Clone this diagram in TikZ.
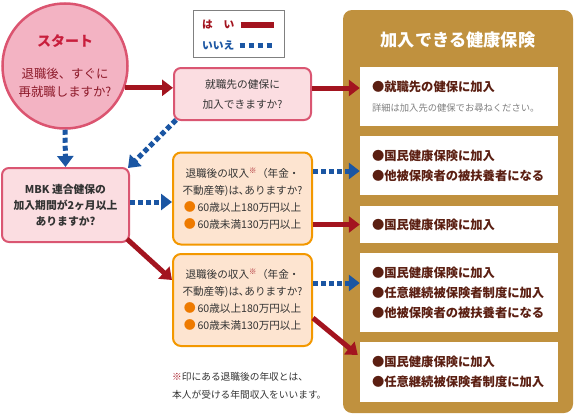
\documentclass[tikz,border=0pt]{standalone}
\usepackage{fontspec}
\setmainfont{Noto Sans CJK JP}
\usetikzlibrary{positioning, arrows.meta, calc}
\definecolor{yesred}{HTML}{A3141F}
\definecolor{noblue}{HTML}{1B56A3}
\definecolor{startfill}{HTML}{F3B3C3}
\definecolor{startline}{HTML}{DB5470}
\definecolor{pinkfill}{HTML}{FBDDE1}
\definecolor{pinkline}{HTML}{DA5672}
\definecolor{orangefill}{HTML}{FDE4D0}
\definecolor{orangeline}{HTML}{F39800}
\definecolor{orangebul}{HTML}{EE7A00}
\definecolor{goldfill}{HTML}{C0913E}
\definecolor{restext}{HTML}{5B1F12}
\definecolor{boxtext}{HTML}{333333}
\definecolor{starttitle}{HTML}{C81E3C}
\definecolor{starttext}{HTML}{8E1B2B}

\begin{document}
\begin{tikzpicture}[
    x=1pt, y=-1pt,
    every node/.style={inner sep=0pt},
    startcircle/.style={
        draw=startline,
        fill=startfill,
        circle,
        line width=2.5pt,
        minimum size=125pt,
        align=center,
        text=starttext,
        font=\fontsize{12.4}{18}\selectfont,
    },
    qbox/.style={
        draw=pinkline,
        fill=pinkfill,
        line width=2pt,
        rounded corners=7pt,
        align=center,
        text=boxtext,
        font=\fontsize{10.7}{20}\selectfont,
    },
    incbox/.style={
        draw=orangeline,
        fill=orangefill,
        line width=2pt,
        rounded corners=8pt,
        minimum width=139pt,
        minimum height=92pt,
        align=center,
        text=boxtext,
        font=\fontsize{10.6}{17}\selectfont,
    },
    resbox/.style={
        fill=white,
        inner xsep=12pt,
        text width=174pt,
        minimum height=#1,
        align=left,
        text=restext,
        font=\bfseries\fontsize{12.3}{20}\selectfont,
    },
    yes/.style={draw=yesred, line width=5pt, -{Triangle[length=11pt, width=16pt]}},
    no/.style={draw=noblue, line width=5pt, dash pattern=on 5pt off 3pt, -{Triangle[length=11pt, width=16pt]}},
]

\useasboundingbox (0,0) rectangle (575,415);

% -- Right panel
\node[fill=goldfill, rounded corners=9pt, minimum width=230pt, minimum height=403pt] (panel) at (458,211.5) {};
\node[text=white, font=\bfseries\fontsize{17.2}{20}\selectfont] (ptitle) at (458,40) {加入できる健康保険};

% -- Result boxes
\node[resbox=59pt] (resA) at (459,96.5) {●就職先の健保に加入\\{\mdseries\color{gray}\fontsize{9.3}{12}\selectfont 詳細は加入先の健保でお尋ねください。}};
\node[resbox=59pt] (resB) at (459,165.5) {●国民健康保険に加入\\●他被保険者の被扶養者になる};
\node[resbox=37pt] (resC) at (459,224.5) {●国民健康保険に加入};
\node[resbox=79pt] (resD) at (459,292.5) {●国民健康保険に加入\\●任意継続被保険者制度に加入\\●他被保険者の被扶養者になる};
\node[resbox=60pt] (resE) at (459,372) {●国民健康保険に加入\\●任意継続被保険者制度に加入};

% -- Legend
\node[draw=gray, fill=white, line width=1pt, minimum width=91pt, minimum height=47pt] (legend) at (238.5,34) {};
\node[anchor=west, text=yesred, font=\bfseries\fontsize{10.7}{12}\selectfont] (lgyes) at (202,25) {は　い};
\node[anchor=west, text=noblue, font=\bfseries\fontsize{10.7}{12}\selectfont] (lgno) at (202,45) {いいえ};
\draw[yesred, line width=5.5pt] ([xshift=6pt]lgyes.east) -- ([xshift=39pt]lgyes.east);
\draw[noblue, line width=5pt, dash pattern=on 5.5pt off 3.5pt] ([xshift=5pt]lgno.east) -- ([xshift=38pt]lgno.east);

% -- Start
\node[startcircle] (start) at (65,66) {{\bfseries\color{starttitle}\fontsize{14}{18}\selectfont スタート}\\[14pt]退職後、すぐに\\再就職しますか?};

% -- Questions
\node[qbox, minimum width=137pt, minimum height=52pt] (q1) at (242.5,94) {就職先の健保に\\加入できますか?};
\node[qbox, minimum width=127pt, minimum height=74pt, font=\bfseries\fontsize{10.8}{16}\selectfont] (mbk) at (65.5,205) {MBK 連合健保の\\加入期間が2ヶ月以上\\ありますか?};

\node[incbox] (q2) at (242.5,198.5) {退職後の収入\textsuperscript{\color{yesred}※}（年金・\\不動産等)は､ありますか?\\{\color{orangebul}\large●}\,60歳以上180万円以上\\{\color{orangebul}\large●}\,60歳未満130万円以上};
\node[incbox] (q3) at (242.5,300) {退職後の収入\textsuperscript{\color{yesred}※}（年金・\\不動産等)は､ありますか?\\{\color{orangebul}\large●}\,60歳以上180万円以上\\{\color{orangebul}\large●}\,60歳未満130万円以上};

% -- Note
\node[anchor=west, align=left, text=boxtext, font=\fontsize{9.7}{18}\selectfont] (note) at (172,386) {{\color{yesred}※}印にある退職後の年収とは、\\本人が受ける年間収入をいいます。};

% ===== Arrows =====

% start -> q1 (yes)
\draw[yes] (start.-20) -- (start.-20 -| q1.west);

% start -> mbk (no)
\draw[no] (start.south) -- (mbk.north);

% q1 -> resA (yes)
\draw[yes] ([yshift=6pt]q1.east) -- ([yshift=6pt]q1.east -| resA.west);

% q1 -> mbk (no)
\draw[no] ([shift={(3pt,1pt)}]q1.south west) -- ([shift={(-2pt,-1pt)}]mbk.north east);

% mbk -> q2 (no), mbk -> q3 (yes)
\draw[no] ([yshift=3pt]mbk.east) -- ([yshift=3pt]mbk.east -| q2.west);
\draw[yes] ([shift={(-3pt,4pt)}]mbk.south east) -- ([yshift=20pt]q3.west);

% q2 -> resB (no), q2 -> resC (yes)
\draw[no] ([yshift=27.5pt]q2.east) -- ([yshift=27.5pt]q2.east -| resB.west);
\draw[yes] (q2.east |- resC.west) -- (resC.west);

% q3 -> resD (no), q3 -> resE (yes)
\draw[no] ([yshift=17pt]q3.east) -- ([yshift=17pt]q3.east -| resD.west);
\draw[yes] ([yshift=-18pt]q3.east) -- ([shift={(-2pt,17pt)}]resE.west);

\end{tikzpicture}
\end{document}
